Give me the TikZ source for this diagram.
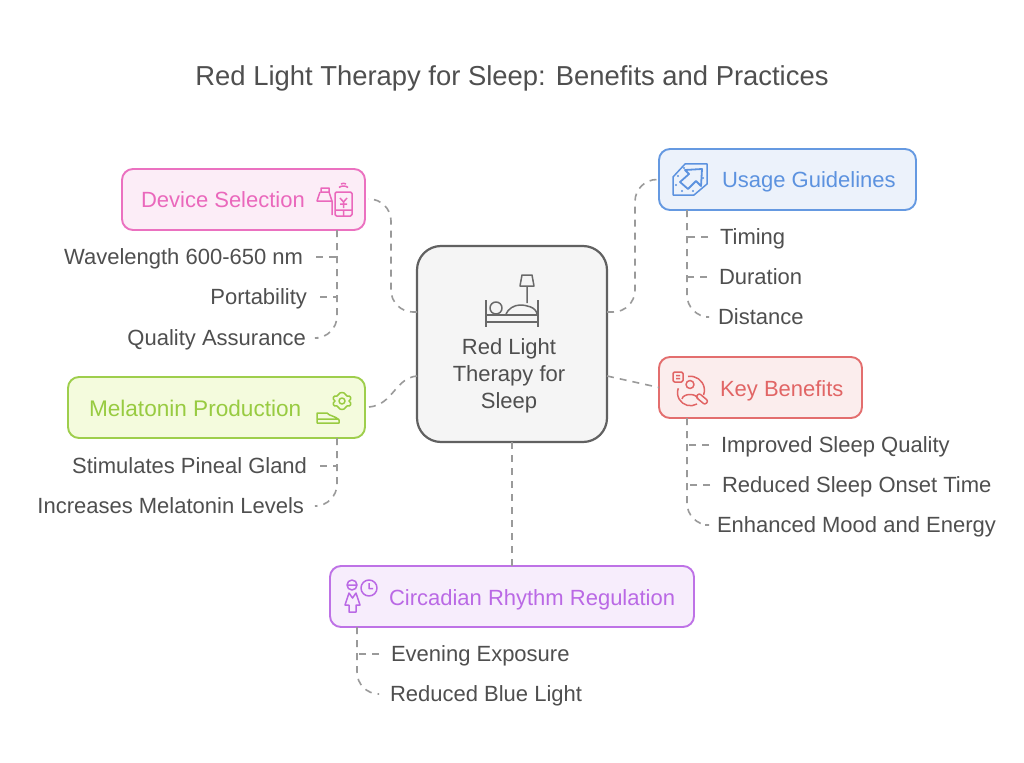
\documentclass[tikz,border=0pt]{standalone}
\usepackage{fontspec}
\setmainfont{Liberation Sans}
\usetikzlibrary{positioning}
\usetikzlibrary{calc}

\begin{document}
\begin{tikzpicture}[x=1pt, y=-1pt,
    %Option for the boxes and texts
    inner sep=0pt, outer sep=0pt,%
    box/.style={draw=#1!80!white, line width=1.9pt, rounded corners=11pt, fill=#1!10!white, minimum height=61pt},
    boxtext/.style={text=#1!85!white, font=\fontsize{22}{26}\selectfont, text height=20pt, text depth=4pt},
    icon/.style={draw=#1!85!white, line width=1.5pt, line join=round},
    leaf/.style={text=textgrey, font=\fontsize{22}{26}\selectfont, text height=19pt, text depth=4pt},
    leafleft/.style={leaf, anchor=east, inner xsep=13pt},
    leafright/.style={leaf, anchor=west, inner xsep=12pt},
    link/.style={draw=linkgrey, line width=1.6pt, dash pattern=on 7pt off 6pt},
    elbow/.style={link, rounded corners=22pt},
]
    % Colors
    \definecolor{textgrey}{HTML}{4F4F4F}
    \definecolor{linkgrey}{HTML}{9A9A9A}
    \definecolor{boxpink}{HTML}{E64DB0}
    \definecolor{boxblue}{HTML}{3F7FD9}
    \definecolor{boxred}{HTML}{DC4A4A}
    \definecolor{boxgreen}{HTML}{86C21F}
    \definecolor{boxpurple}{HTML}{AE4FE0}
    \definecolor{greenfill}{HTML}{F4FBDD}

    \useasboundingbox[fill=white] (0,0) rectangle (1024,762);

    % Title
    \node[text=textgrey, font=\fontsize{27.4}{32}\selectfont] (title) at (512,78) {Red Light Therapy for Sleep: Benefits and Practices};

    % Center
    \node[draw=textgrey!90!white, line width=2.2pt, rounded corners=24pt, fill=black!4, minimum width=190pt, minimum height=196pt] (center) at (512,344) {};
    \node[text=textgrey, align=center, font=\fontsize{22}{27}\selectfont] (centertext) at (509,375.5) {Red Light\\Therapy for\\Sleep};

    % Boxes
    \node[box=boxpink,   minimum width=243pt] (device)    at (243.5,199.5) {};
    \node[box=boxblue,   minimum width=257pt] (usage)     at (787.5,179.5) {};
    \node[box=boxred,    minimum width=203pt] (benefits)  at (760.5,387.5) {};
    \node[box=boxgreen,  minimum width=297pt, fill=greenfill] (melatonin) at (216.5,407.5) {};
    \node[box=boxpurple, minimum width=364pt] (circadian) at (512,596.5) {};

    \node[boxtext=boxpink, anchor=west]   (devicetext)    at (141,199) {Device Selection};
    \node[boxtext=boxblue, anchor=west]   (usagetext)     at (722,179) {Usage Guidelines};
    \node[boxtext=boxred, anchor=west]    (benefitstext)  at (720,388) {Key Benefits};
    \node[boxtext=boxgreen, anchor=west, font=\fontsize{22.6}{26}\selectfont] (melatonintext) at (89,408) {Melatonin Production};
    \node[boxtext=boxpurple, anchor=west] (circadiantext) at (389,597) {Circadian Rhythm Regulation};

    % Trunk ends
    \coordinate (devicetrunk)    at (337,230);
    \coordinate (usagetrunk)     at (687,210);
    \coordinate (benefitstrunk)  at (687,418);
    \coordinate (melatonintrunk) at (337,438);
    \coordinate (circadiantrunk) at (357,627);

    % Leaves
    \node[leafleft] (wavelength) at (316,257) {Wavelength 600-650 nm};
    \node[leafleft] (portability) at (320,297) {Portability};
    \node[leafleft] (quality) at (319,338) {Quality Assurance};
    \node[leafleft] (pineal) at (320,466) {Stimulates Pineal Gland};
    \node[leafleft] (levels) at (317,506) {Increases Melatonin Levels};
    \node[leafright] (timing) at (708,237) {Timing};
    \node[leafright] (duration) at (707,277) {Duration};
    \node[leafright] (distance) at (706,317) {Distance};
    \node[leafright] (quality2) at (709,445) {Improved Sleep Quality};
    \node[leafright] (onset) at (710,485) {Reduced Sleep Onset Time};
    \node[leafright] (mood) at (705,525) {Enhanced Mood and Energy};
    \node[leafright] (evening) at (379,654) {Evening Exposure};
    \node[leafright] (bluelight) at (378,694) {Reduced Blue Light};

    % Connectors from the center
    \draw[elbow] (center.west |- 0,312) -- ++(-26,0) |- ($(device.east |- 0,199)+(3,0)$);
    \draw[link] (center.west |- 0,376) .. controls (395,378) and (393,405) .. ($(device.east |- 0,407)+(4,0)$);
    \draw[elbow] (center.east |- 0,312) -- ++(28,0) |- (usage.west);
    \draw[link] (center.east |- 0,376) -- (benefits.west);
    \draw[link] (center.south) -- (circadian.north);

    % Branches
    \draw[elbow] (devicetrunk) |- (quality.east);
    \draw[link] (wavelength.east) -- (wavelength.east -| devicetrunk);
    \draw[link] (portability.east) -- (portability.east -| devicetrunk);
    \draw[elbow] (melatonintrunk) |- (levels.east);
    \draw[link] (pineal.east) -- (pineal.east -| melatonintrunk);
    \draw[elbow] (usagetrunk) |- (distance.west);
    \draw[link] (timing.west) -- (timing.west -| usagetrunk);
    \draw[link] (duration.west) -- (duration.west -| usagetrunk);
    \draw[elbow] (benefitstrunk) |- (mood.west);
    \draw[link] (quality2.west) -- (quality2.west -| benefitstrunk);
    \draw[link] (onset.west) -- (onset.west -| benefitstrunk);
    \draw[elbow] (circadiantrunk) |- (bluelight.west);
    \draw[link] (evening.west) -- (evening.west -| circadiantrunk);

    %Bed and lamp
    \draw[icon=textgrey] (486,300) -- (486,327) (538,300) -- (538,327)
        (486,315) -- (538,315) (486,322) -- (538,322);
    \draw[icon=textgrey] (496,308) circle (6);
    \draw[icon=textgrey] (506,314) .. controls (508,309) and (514,305) .. (520,305)
        .. controls (526,305) and (536,307) .. (537,314);
    \draw[icon=textgrey] (522,275) -- (532,275) -- (534,286) -- (520,286) -- cycle (527,286) -- (527,303);

    %Device icon
    \draw[icon=boxpink, rounded corners=1.5pt] (335,192) rectangle (352,216) (335,210) -- (352,210);
    \draw[icon=boxpink] (340,198) -- (343.5,202) -- (347,198) (343.5,202) -- (343.5,208) (340,204) -- (347,204)
        (343.5,210) -- (343.5,216);
    \draw[icon=boxpink] (339,187.5) .. controls (341,185.5) and (346,185.5) .. (348,187.5)
        (341,184) .. controls (342,183) and (345,183) .. (346,184);
    \draw[icon=boxpink] (321,188) -- (329,188) -- (329,192) -- (321,192) -- cycle
        (320,192) -- (317,201) -- (332,201) (329,192) -- (332,201) -- (332,215);

    %Usage icon
    \draw[icon=boxblue] (673,177) -- (685,164) -- (707,164) -- (707,184) -- (694,195) -- (673,195) -- cycle;
    \draw[icon=boxblue, line width=1.8pt, fill=boxblue!10!white] (685,170) -- (702,169) -- (701,186) -- (696,181) -- (688,189) -- (680,182) -- (689,174) -- cycle;
    \foreach \px/\py in {678/176, 676/185, 682/191, 693/191, 703/178, 684/168}
        \fill[boxblue!85!white] (\px,\py) circle (1.1);

    %Key benefits icon
    \draw[icon=boxred, rounded corners=1.5pt] (673,372) rectangle (683,382) (676,375.5) -- (680,375.5) (676,378.5) -- (680,378.5);
    \draw[icon=boxred] (690,384.5) circle (4)
        (682,399) .. controls (683,393) and (697,393) .. (698,399);
    \draw[icon=boxred] (688,376.5) arc (-100:20:14) (697,404) arc (60:200:13);
    \draw[icon=boxred, rounded corners=2pt, rotate around={-40:(702,399)}] (696,396.5) rectangle (708,401.5);

    %Melatonin icon
    \draw[icon=boxgreen] (342,401) circle (3);
    \draw[icon=boxgreen] (342,392.5) .. controls (346,392.5) and (345,396) .. (347,396)
        .. controls (351,395) and (352,399) .. (349,401)
        .. controls (352,403) and (351,407) .. (347,406)
        .. controls (345,406) and (346,409.5) .. (342,409.5)
        .. controls (338,409.5) and (339,406) .. (337,406)
        .. controls (333,407) and (332,403) .. (335,401)
        .. controls (332,399) and (333,395) .. (337,396)
        .. controls (339,396) and (338,392.5) .. (342,392.5) -- cycle;
    \draw[icon=boxgreen] (317,413) -- (327,413) .. controls (329,416) and (336,416) .. (339,420) -- (339,423) -- (317,423) -- cycle (317,419) -- (339,419);

    %Circadian icon
    \draw[icon=boxpurple] (369,588) circle (8) (369,583) -- (369,588.5) -- (373,588.5);
    \draw[icon=boxpurple] (352,585) circle (5) (347,585) -- (357,585);
    \draw[icon=boxpurple] (349,593) -- (345,605) -- (349,605) -- (349,612) -- (356,612) -- (356,605) -- (360,605) -- (356,593) -- (352.5,598) -- cycle;

\end{tikzpicture}
\end{document}
